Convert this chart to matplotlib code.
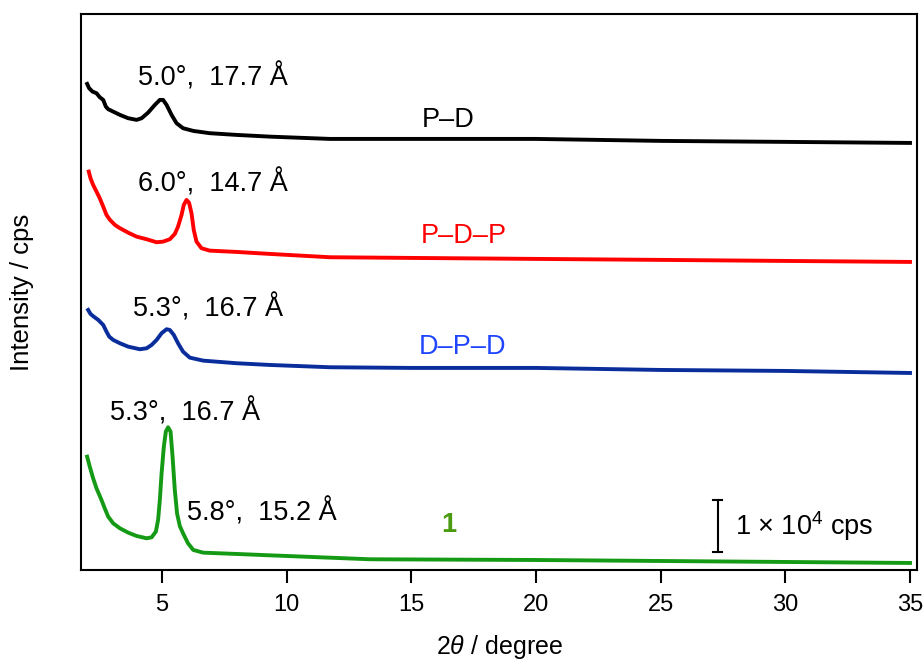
import matplotlib
matplotlib.use("Agg")
import matplotlib.pyplot as plt

plt.rcParams['font.family'] = ['Liberation Sans', 'DejaVu Sans']
plt.rcParams['mathtext.fontset'] = 'custom'
plt.rcParams['mathtext.it'] = 'Liberation Sans:italic'
plt.rcParams['mathtext.rm'] = 'Liberation Sans'

# ---- data: 2theta (degree) and intensity (cps); traces are stacked (offset included) ----
x_green = [2.005, 2.11, 2.245, 2.38, 2.58, 2.71, 2.85, 3.05, 3.32, 3.65, 3.99, 4.39, 4.59,
           4.76, 4.85, 4.92, 4.99, 5.08, 5.16, 5.25, 5.35, 5.43, 5.52, 5.61, 5.72, 5.85,
           6.05, 6.26, 6.66, 8.0, 9.33, 11.34, 13.34, 20, 25, 30, 35]
y_green = [21790, 19870, 17630, 15700, 13460, 11860, 10250, 8970, 8010, 7180, 6540, 6090,
           6280, 7370, 9620, 13460, 18590, 23720, 26600, 27440, 26600, 21790, 15380, 10900,
           8460, 7060, 5130, 3850, 3330, 3080, 2820, 2440, 2060, 1920, 1730, 1540, 1350]

x_blue = [2.045, 2.14, 2.27, 2.45, 2.65, 2.78, 2.89, 3.05, 3.32, 3.65, 4.12, 4.39, 4.59,
          4.79, 4.99, 5.19, 5.32, 5.48, 5.65, 5.85, 6.12, 6.66, 8.0, 9.33, 11.74, 15, 20,
          25, 30, 35]
y_blue = [50000, 49230, 48710, 48080, 47110, 45830, 44870, 44230, 43590, 42940, 42440,
          42630, 43270, 44230, 45520, 46290, 46150, 45190, 43590, 41980, 40830, 40250,
          39750, 39420, 38980, 38850, 38850, 38460, 38270, 37880]

x_red = [2.07, 2.14, 2.245, 2.38, 2.51, 2.65, 2.78, 2.92, 3.12, 3.32, 3.65, 3.99, 4.39,
         4.79, 5.05, 5.32, 5.52, 5.65, 5.79, 5.88, 5.99, 6.09, 6.19, 6.28, 6.39, 6.59,
         6.92, 8.0, 9.33, 11.74, 15, 20, 25, 30, 35]
y_red = [76600, 75320, 74040, 72750, 71480, 69860, 68270, 67310, 66340, 65710, 64860,
         64090, 63590, 63010, 63130, 63590, 64610, 66020, 68270, 70190, 71150, 70630,
         68590, 65380, 63130, 61860, 61400, 61150, 60770, 60130, 60000, 59810, 59620,
         59420, 59230]

x_black = [2.005, 2.085, 2.22, 2.38, 2.51, 2.65, 2.755, 2.85, 3.05, 3.32, 3.65, 3.99,
           4.19, 4.45, 4.72, 4.92, 5.05, 5.19, 5.39, 5.59, 5.85, 6.26, 6.92, 8.0, 9.33,
           11.74, 15, 20, 25, 30, 35]
y_black = [93460, 92630, 91980, 91670, 90900, 90380, 89090, 88590, 88130, 87500, 86860,
           86540, 86860, 87940, 89420, 90380, 90380, 89420, 87500, 85900, 84940, 84420,
           83980, 83650, 83320, 82880, 82880, 82880, 82500, 82310, 82110]

xticks = [5, 10, 15, 20, 25, 30, 35]

fig = plt.figure(figsize=(9.24, 6.63), dpi=100)
ax = fig.add_axes([0.0877, 0.1403, 0.9047, 0.8386])

lw = 2.8
ax.plot(x_black, y_black, color='black', lw=lw, solid_joinstyle='round')
ax.plot(x_red, y_red, color='#ff0000', lw=lw, solid_joinstyle='round')
ax.plot(x_blue, y_blue, color='#0a2d9c', lw=lw, solid_joinstyle='round')
ax.plot(x_green, y_green, color='#149a14', lw=lw, solid_joinstyle='round')

ax.set_xlim(1.76, 35.28)
ax.set_ylim(0, 106900)
ax.set_xticks(xticks)
ax.set_yticks([])
ax.tick_params(axis='x', direction='out', length=9, width=1.5, labelsize=17, pad=8)
for s in ax.spines.values():
    s.set_linewidth(1.5)

fs = 19.5
ax.text(7.05, 94800, "5.0°,  17.7 Å", fontsize=fs, ha='center', va='center')
ax.text(16.47, 86540, "P–D", fontsize=fs, ha='center', va='center', color='black')
ax.text(7.05, 74420, "6.0°,  14.7 Å", fontsize=fs, ha='center', va='center')
ax.text(17.1, 64230, "P–D–P", fontsize=fs, ha='center', va='center', color='#ff0000')
ax.text(6.85, 50380, "5.3°,  16.7 Å", fontsize=fs, ha='center', va='center')
ax.text(17.07, 42880, "D–P–D", fontsize=fs, ha='center', va='center', color='#1f45ff')
ax.text(5.92, 30380, "5.3°,  16.7 Å", fontsize=fs, ha='center', va='center')
ax.text(9.0, 11150, "5.8°,  15.2 Å", fontsize=fs, ha='center', va='center')
ax.text(16.5, 8650, "1", fontsize=fs, ha='center', va='center', color='#4b9b12',
        fontweight='bold')

# scale bar 1 x 10^4 cps
bar_x, bar_lo, bar_len = 27.3, 3460, 10000
ax.plot([bar_x, bar_x], [bar_lo, bar_lo + bar_len], color='black', lw=1.5)
ax.plot([bar_x - 0.18, bar_x + 0.18], [bar_lo, bar_lo], color='black', lw=1.5)
ax.plot([bar_x - 0.18, bar_x + 0.18], [bar_lo + bar_len] * 2, color='black', lw=1.5)
ax.text(28.0, bar_lo + bar_len / 2, r"1 × 10$^{4}$ cps", fontsize=fs, ha='left', va='center')

ax.set_xlabel(r"2$\it{\theta}$ / degree", fontsize=18)
ax.xaxis.set_label_coords(0.5, -0.114)
ax.set_ylabel("Intensity / cps", fontsize=18.5)
ax.yaxis.set_label_coords(-0.056, 0.5)

fig.savefig("out.png", dpi=100)
